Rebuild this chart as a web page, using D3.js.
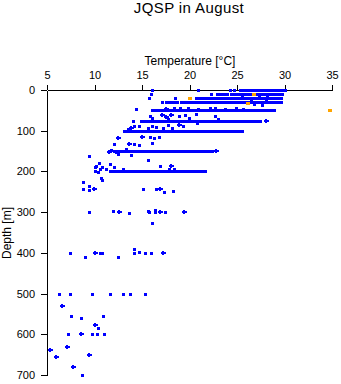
<!DOCTYPE html>
<html>
<head>
<meta charset="utf-8">
<script src="https://cdn.jsdelivr.net/npm/d3@7"></script>
<style>
  html, body { margin: 0; padding: 0; background: #fff; }
  svg { display: block; font-family: "Liberation Sans", Arial, Helvetica, sans-serif; }
</style>
</head>
<body>
<svg id="chart" width="341" height="384"></svg>
<script>
// ---- Data ----
const title = "JQSP in August";
const xLabel = "Temperature [°C]";
const yLabel = "Depth [m]";
const xTicks = [5, 10, 15, 20, 25, 30, 35];
const yTicks = [0, 100, 200, 300, 400, 500, 600, 700];

// dense runs of observations at standard depths: [depth, tempFrom, tempTo]
const runs = [
  [0, 25.3, 29.7],
  [10, 22.9, 23.9], [10, 24.4, 29.7],
  [20, 20.7, 29.6],
  [30, 17.5, 18.7], [30, 19.1, 29.6],
  [50, 16.1, 28.9],
  [75, 14.9, 26.5], [75, 26.6, 27.4],
  [100, 13.1, 23.7], [100, 23.9, 25.5],
  [150, 12.1, 22.4],
  [200, 11.6, 21.6]
];

// individual observations: [temperature, depth, marker]
const points = [
  [16.0,0,'s'],[20.9,0,'s'],[24.3,0,'s'],[24.7,0,'s'],[30.0,0,'s'],
  [15.95,10,'s'],[22.3,10,'s'],
  [15.7,20,'s'],[18.5,20,'s'],
  [17.1,30,'s'],
  [25.5,15,'s'],[27.3,15,'s'],[28.2,15,'s'],[26.5,25,'s'],[28.0,25,'s'],[26.8,35,'s'],[27.6,36,'s'],
  [14.4,47,'s'],[17.5,46,'p'],[18.4,44,'s'],[19.0,45,'s'],[19.8,44,'s'],[20.9,46,'s'],[22.2,45,'s'],[22.7,44,'s'],[23.7,46,'s'],[24.9,44,'s'],[25.6,46,'s'],
  [15.8,64,'s'],[16.0,68,'s'],[17.1,62,'p'],[17.5,66,'p'],[18.0,61,'p'],[17.7,70,'s'],[18.9,64,'s'],[19.5,62,'s'],[19.9,68,'s'],[20.7,60,'s'],[22.7,64,'s'],[23.0,70,'s'],[14.0,75,'s'],[28.0,75,'p'],
  [13.5,96,'s'],[13.85,93,'p'],[14.2,89,'s'],[14.7,89,'s'],[15.6,93,'s'],[16.1,88,'s'],[16.5,91,'s'],[17.2,93,'s'],[17.7,85,'s'],[18.2,93,'s'],[18.9,87,'p'],[19.3,88,'s'],[20.8,81,'s'],
  [12.5,118,'p'],[15.0,116,'p'],[15.8,116,'s'],[16.3,119,'s'],[16.8,116,'s'],[16.0,130,'s'],[12.1,132,'s'],[13.6,132,'p'],[14.2,132,'s'],[14.7,135,'s'],
  [11.7,148,'s'],[11.5,152,'p'],[12.3,153,'s'],[12.5,157,'s'],[13.3,146,'s'],[13.8,159,'s'],[22.8,150,'p'],
  [9.45,163,'s'],[15.6,173,'s'],[10.5,180,'s'],[10.2,186,'s'],[10.0,190,'s'],[10.8,188,'s'],[10.6,195,'s'],[11.2,195,'s'],[11.6,181,'s'],[12.1,190,'s'],[13.0,193,'s'],[16.9,186,'s'],[18.1,186,'p'],[17.8,193,'s'],[18.4,193,'s'],
  [10.1,199,'s'],[10.4,202,'s'],
  [10.7,216,'s'],[8.75,226,'s'],[8.8,244,'s'],[9.45,237,'s'],[9.45,246,'s'],[9.9,242,'p'],[10.75,221,'s'],[15.1,242,'s'],[16.5,242,'s'],[16.9,244,'p'],[17.3,251,'s'],[18.3,248,'s'],
  [9.4,300,'s'],[11.9,297,'s'],[12.6,300,'p'],[13.6,303,'s'],[15.6,298,'s'],[15.7,300,'s'],[16.4,295,'s'],[16.4,300,'s'],[16.9,300,'p'],[17.4,300,'s'],[19.4,300,'p'],[16.0,327,'s'],
  [7.45,400,'s'],[8.95,410,'s'],[10.0,400,'p'],[10.6,400,'s'],[10.8,400,'s'],[12.45,410,'s'],[14.2,390,'s'],[14.2,400,'s'],[14.65,397,'s'],[15.3,400,'s'],[15.95,400,'s'],[17.25,400,'p'],
  [6.3,500,'s'],[7.4,500,'s'],[9.7,500,'s'],[11.6,500,'s'],[13.0,500,'s'],[13.7,500,'s'],[15.3,500,'s'],
  [6.55,531,'p'],[7.5,555,'s'],[8.6,560,'s'],[10.9,554,'s'],[10.0,577,'p'],[10.4,585,'s'],
  [7.2,600,'s'],[8.6,600,'p'],[9.7,600,'s'],[10.3,600,'s'],[10.95,600,'s'],
  [5.3,639,'p'],[7.1,632,'p'],[5.9,656,'p'],[9.4,650,'p'],[7.7,681,'p'],[8.7,700,'s']
];

// highlighted observations (orange)
const highlight = [[19.9,20],[26.7,11],[26.1,31],[34.7,50]];

// ---- Chart ----
const svg = d3.select("#chart");
const x = d3.scaleLinear().domain([5, 35]).range([47, 332]);
const y = d3.scaleLinear().domain([0, 700]).range([90, 375]);
const blue = "#0000ff", orange = "#ffa500";

svg.append("text")
  .attr("x", 189).attr("y", 13)
  .attr("text-anchor", "middle")
  .attr("font-size", 15)
  .attr("letter-spacing", 0.4)
  .text(title);

// axes (drawn first so the marks sit on top)
const xAxis = svg.append("g")
  .attr("transform", "translate(0,90)")
  .call(d3.axisTop(x).tickValues(xTicks).tickSize(5).tickSizeOuter(0).tickPadding(6));
const yAxis = svg.append("g")
  .attr("transform", "translate(47,0)")
  .call(d3.axisLeft(y).tickValues(yTicks).tickSize(6).tickSizeOuter(0).tickPadding(6));

[xAxis, yAxis].forEach(g => {
  g.attr("font-family", null).attr("font-size", 11);
  g.selectAll("path, line").attr("stroke", "#000").attr("shape-rendering", "crispEdges");
  g.selectAll("text").attr("fill", "#000");
});

const plot = svg.append("g").attr("shape-rendering", "crispEdges");

plot.selectAll("rect.run").data(runs).join("rect")
  .attr("class", "run")
  .attr("x", d => Math.round(x(d[1])) - 1)
  .attr("y", d => Math.round(y(d[0])) - 1)
  .attr("width", d => Math.round(x(d[2])) - Math.round(x(d[1])) + 3)
  .attr("height", 3)
  .attr("fill", blue);

const sq = points.filter(d => d[2] === 's');
const pl = points.filter(d => d[2] === 'p');

plot.selectAll("rect.sq").data(sq).join("rect")
  .attr("class", "sq")
  .attr("x", d => Math.round(x(d[0])) - 1)
  .attr("y", d => Math.round(y(d[1])) - 1)
  .attr("width", 3).attr("height", 3)
  .attr("fill", blue);

const plus = plot.selectAll("g.pl").data(pl).join("g")
  .attr("class", "pl")
  .attr("transform", d => `translate(${Math.round(x(d[0]))},${Math.round(y(d[1]))})`);
plus.append("rect").attr("x", -2).attr("y", -1).attr("width", 5).attr("height", 2).attr("fill", blue);
plus.append("rect").attr("x", -1).attr("y", -2).attr("width", 2).attr("height", 4).attr("fill", blue);

plot.selectAll("rect.hl").data(highlight).join("rect")
  .attr("class", "hl")
  .attr("x", d => Math.round(x(d[0])) - 1)
  .attr("y", d => Math.round(y(d[1])) - 1)
  .attr("width", 4).attr("height", 3)
  .attr("fill", orange);

svg.append("text")
  .attr("x", 190).attr("y", 64.5)
  .attr("text-anchor", "middle")
  .attr("font-size", 12)
  .text(xLabel);

svg.append("text")
  .attr("transform", "translate(11,233) rotate(-90)")
  .attr("text-anchor", "middle")
  .attr("font-size", 12)
  .text(yLabel);
</script>
</body>
</html>
